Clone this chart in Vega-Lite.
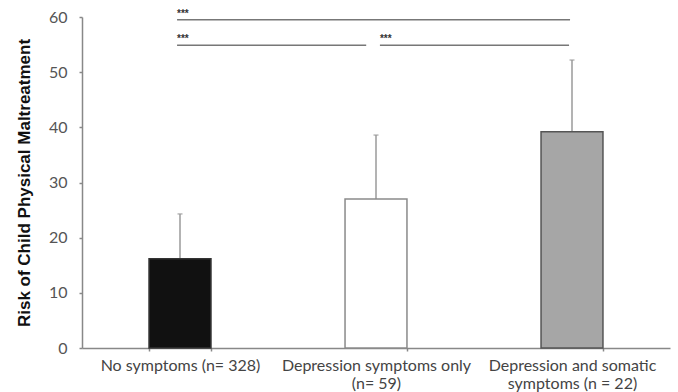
{
  "$schema": "https://vega.github.io/schema/vega-lite/v6.json",
  "width": 588,
  "height": 331,
  "autosize": {"type": "none"},
  "padding": {"left": 82, "top": 17, "right": 8, "bottom": 44},
  "background": "white",
  "config": {
    "view": {"stroke": null},
    "axis": {"grid": false}
  },
  "datasets": {
    "bars": [
      {"group": "No symptoms (n= 328)", "value": 16.2, "err": 24.3, "fill": "#111111", "stroke": "#333333"},
      {"group": "Depression symptoms only (n= 59)", "value": 27.0, "err": 38.6, "fill": "#ffffff", "stroke": "#8a8a8a"},
      {"group": "Depression and somatic symptoms (n = 22)", "value": 39.2, "err": 52.2, "fill": "#a6a6a6", "stroke": "#555555"}
    ],
    "sig": [
      {"x1": 0.485, "x2": 2.49, "y": 59.5, "label": "***"},
      {"x1": 0.485, "x2": 1.45, "y": 54.9, "label": "***"},
      {"x1": 1.52, "x2": 2.485, "y": 54.9, "label": "***"}
    ]
  },
  "layer": [
    {
      "data": {"name": "bars"},
      "layer": [
        {
          "mark": {"type": "rule", "color": "#9a9a9a", "strokeWidth": 1.5},
          "encoding": {
            "x": {"field": "group", "type": "nominal", "sort": ["No symptoms (n= 328)", "Depression symptoms only (n= 59)", "Depression and somatic symptoms (n = 22)"]},
            "y": {"field": "value", "type": "quantitative"},
            "y2": {"field": "err"}
          }
        },
        {
          "mark": {"type": "tick", "color": "#9a9a9a", "size": 5, "thickness": 1.5, "orient": "horizontal"},
          "encoding": {
            "x": {"field": "group", "type": "nominal", "sort": ["No symptoms (n= 328)", "Depression symptoms only (n= 59)", "Depression and somatic symptoms (n = 22)"]},
            "y": {"field": "err", "type": "quantitative"}
          }
        },
        {
          "mark": {"type": "bar", "strokeWidth": 1.5},
          "encoding": {
            "x": {
              "field": "group",
              "type": "nominal",
              "sort": ["No symptoms (n= 328)", "Depression symptoms only (n= 59)", "Depression and somatic symptoms (n = 22)"],
              "scale": {"paddingInner": 0.684, "paddingOuter": 0.342},
              "axis": {
                "title": null,
                "labelAngle": 0,
                "labelAlign": "center",
                "labelExpr": "datum.value == 'Depression symptoms only (n= 59)' ? ['Depression symptoms only', '(n= 59)'] : datum.value == 'Depression and somatic symptoms (n = 22)' ? ['Depression and somatic', 'symptoms (n = 22)'] : datum.value",
                "labelFont": "Lato",
                "labelFontSize": 16,
                "labelColor": "#444444",
                "labelLineHeight": 18,
                "labelPadding": 6,
                "labelBaseline": "top",
                "labelOverlap": false,
                "labelBound": false,
                "labelLimit": 400,
                "tickBand": "extent",
                "tickSize": 3,
                "tickColor": "#888888",
                "tickWidth": 1.5,
                "domainColor": "#888888",
                "domainWidth": 1.5
              }
            },
            "y": {
              "field": "value",
              "type": "quantitative",
              "scale": {"domain": [0, 60], "nice": false},
              "axis": {
                "title": "Risk of Child Physical Maltreatment",
                "titleFont": "Liberation Sans",
                "titleFontSize": 17,
                "titleFontWeight": "bold",
                "titleColor": "#111111",
                "titlePadding": 15,
                "values": [0, 10, 20, 30, 40, 50, 60],
                "labelFont": "Lato",
                "labelFontSize": 16,
                "labelColor": "#555555",
                "labelPadding": 12,
                "tickSize": 3,
                "tickColor": "#888888",
                "tickWidth": 1.5,
                "domainColor": "#888888",
                "domainWidth": 1.5
              }
            },
            "fill": {"field": "fill", "type": "nominal", "scale": null},
            "stroke": {"field": "stroke", "type": "nominal", "scale": null}
          }
        }
      ]
    },
    {
      "data": {"name": "sig"},
      "layer": [
        {
          "mark": {"type": "rule", "color": "#777777", "strokeWidth": 1.5},
          "encoding": {
            "x": {"field": "x1", "type": "quantitative", "scale": {"domain": [0, 3], "nice": false, "zero": false}, "axis": null},
            "x2": {"field": "x2"},
            "y": {"field": "y", "type": "quantitative"}
          }
        },
        {
          "mark": {"type": "text", "align": "left", "baseline": "bottom", "dy": -1, "fontSize": 10, "font": "Liberation Sans", "fontWeight": "bold", "color": "#333333"},
          "encoding": {
            "x": {"field": "x1", "type": "quantitative", "scale": {"domain": [0, 3], "nice": false, "zero": false}, "axis": null},
            "y": {"field": "y", "type": "quantitative"},
            "text": {"field": "label"}
          }
        }
      ]
    }
  ],
  "resolve": {"scale": {"x": "independent"}}
}
